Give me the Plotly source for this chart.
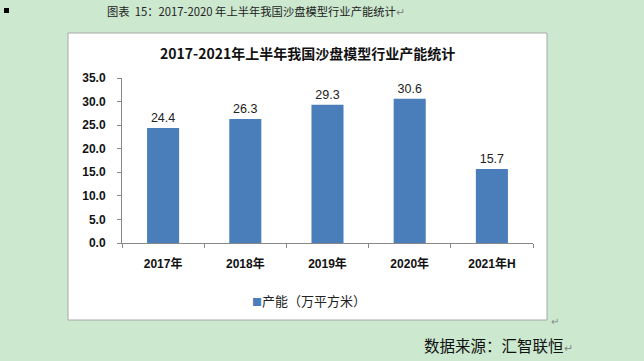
import plotly.graph_objects as go

categories = ["2017年", "2018年", "2019年", "2020年", "2021年H"]
values = [24.4, 26.3, 29.3, 30.6, 15.7]
tick_vals = [0, 5, 10, 15, 20, 25, 30, 35]
tick_text = ["0.0", "5.0", "10.0", "15.0", "20.0", "25.0", "30.0", "35.0"]
series_name = "产能（万平方米）"
chart_title = "2017-2021年上半年我国沙盘模型行业产能统计"
page_title = "图表  15：2017-2020 年上半年我国沙盘模型行业产能统计"
source_text = "数据来源：汇智联恒"

W, H = 644, 361
L, R, T, B = 122, 111, 78, 118
FONT = "Noto Sans CJK SC"
BAR = "#4a7ebb"
TICKFONT = dict(family="Liberation Sans, Noto Sans CJK SC", size=12, color="#111", weight="bold")

fig = go.Figure()
fig.add_trace(go.Bar(
    x=categories, y=values, name=series_name,
    marker=dict(color=BAR, line=dict(width=0)),
    text=[f"{v:.1f}" for v in values], textposition="outside",
    textfont=dict(family="Liberation Sans, Arial", size=12.5, color="#222"),
    cliponaxis=False, showlegend=False,
))

fig.update_layout(
    width=W, height=H,
    paper_bgcolor="#cce8cf", plot_bgcolor="rgba(0,0,0,0)",
    margin=dict(l=L, r=R, t=T, b=B),
    bargap=0.61,
    xaxis=dict(showline=True, linecolor="#888", linewidth=1, ticks="outside",
               tickson="boundaries", ticklen=4, tickcolor="#888",
               tickfont=TICKFONT, ticklabelstandoff=10,
               showgrid=False, zeroline=False),
    yaxis=dict(range=[0, 35], tickvals=tick_vals, ticktext=tick_text,
               showline=True, linecolor="#888", linewidth=1, ticks="outside",
               ticklen=4, tickcolor="#888", showgrid=False, zeroline=False,
               tickfont=TICKFONT, ticklabelstandoff=9),
    shapes=[
        dict(type="rect", xref="paper", yref="paper",
             x0=(68 - L) / (W - L - R), x1=(547 - L) / (W - L - R),
             y0=(H - B - 320) / (H - T - B), y1=(H - B - 33) / (H - T - B),
             fillcolor="white", line=dict(color="#a8a8a8", width=1), layer="below"),
        dict(type="rect", xref="paper", yref="paper",
             x0=(4 - L) / (W - L - R), x1=(9 - L) / (W - L - R),
             y0=(H - B - 13) / (H - T - B), y1=(H - B - 8) / (H - T - B),
             fillcolor="black", line=dict(width=0)),
    ],
)

def ann(text, x, y, size, color="#111", xanchor="center", family=FONT):
    fig.add_annotation(text=text, xref="paper", yref="paper",
                       x=(x - L) / (W - L - R), y=(H - B - y) / (H - T - B),
                       xanchor=xanchor, yanchor="middle", showarrow=False,
                       font=dict(family=family, size=size, color=color))

ann("<b>" + chart_title + "</b>", 307, 53, 14)
ann(page_title + "<span style='color:#888'>↵</span>", 105, 11, 11.3, color="#222", xanchor="left")
ann(source_text + "<span style='color:#888;font-size:11px'>↵</span>", 422, 345, 15.5, xanchor="left")
ann("↵", 549, 320, 10, color="#888", xanchor="left")
ann("<span style='color:" + BAR + ";font-size:10px'>■</span>" + series_name, 309, 300, 13, color="#222")

fig.write_html(
    "out.html",
    config={"displayModeBar": False},
    post_script="document.body.style.margin='0';document.body.style.background='#cce8cf';document.body.style.overflow='hidden';",
)
